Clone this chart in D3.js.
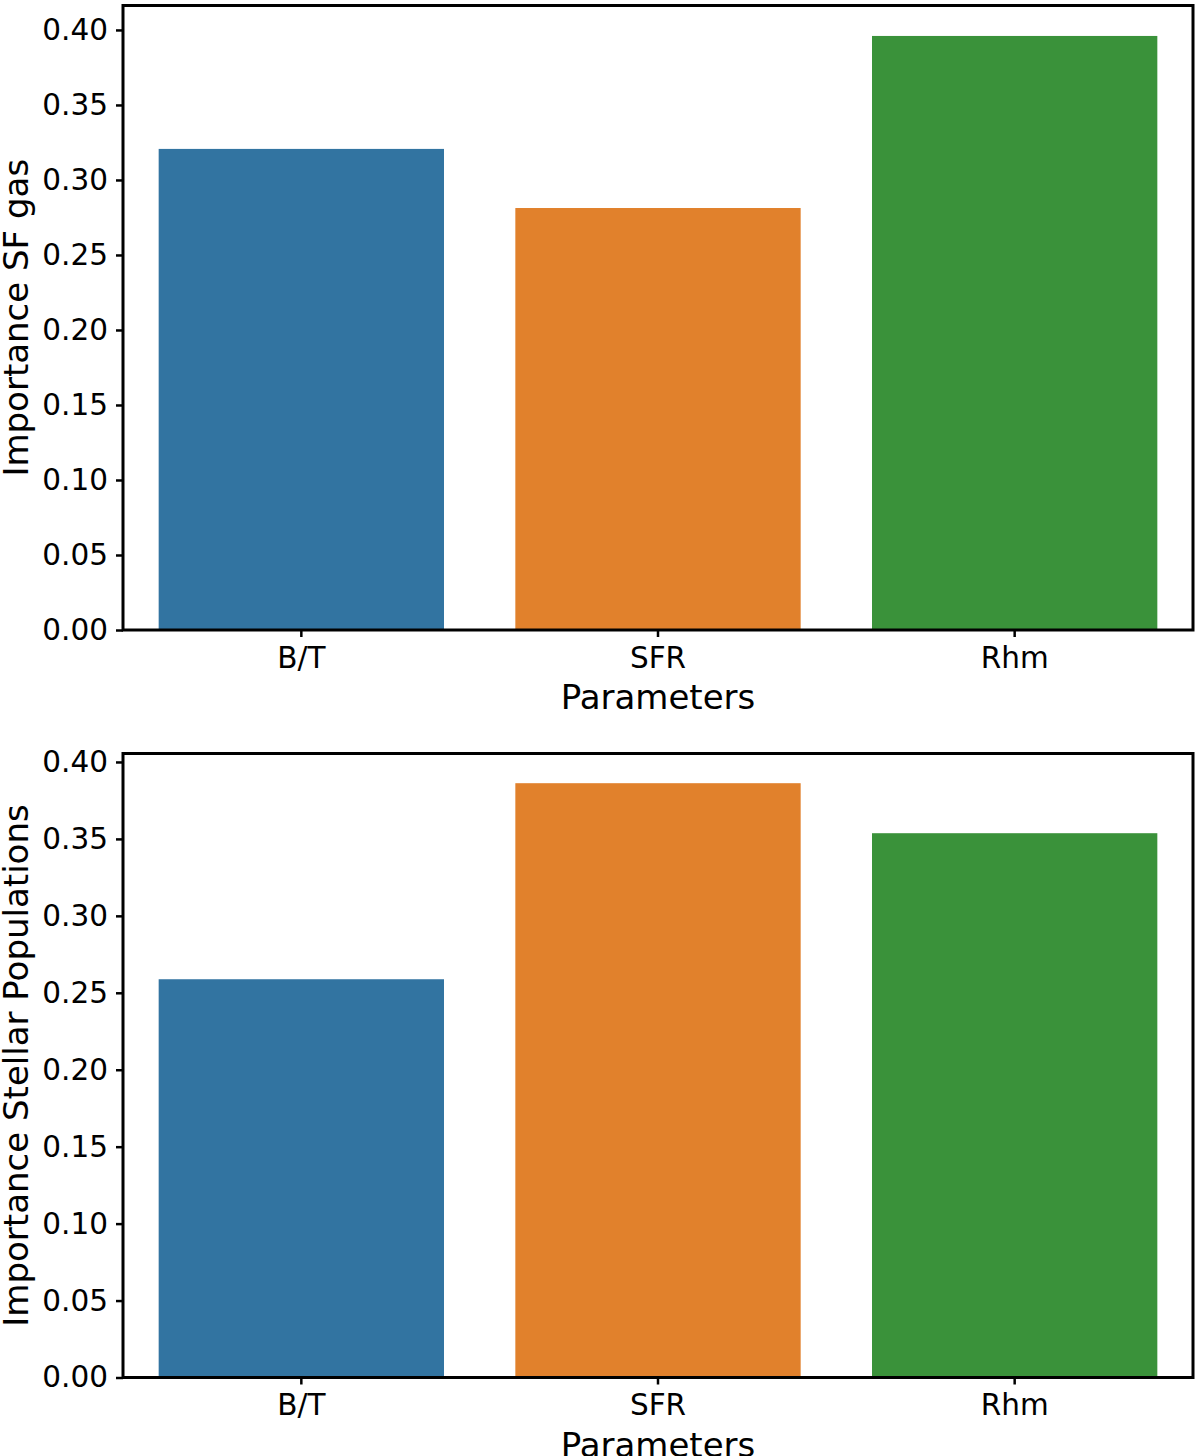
<!DOCTYPE html>
<html>
<head>
<meta charset="utf-8">
<script src="https://d3js.org/d3.v7.min.js"></script>
<style>
  body { margin: 0; background: #fff; }
  text { font-family: "DejaVu Sans", sans-serif; fill: #000; }
</style>
</head>
<body>
<script>
// data
var params = ["B/T", "SFR", "Rhm"];
var sfGas = [0.3207, 0.2813, 0.3960];
var stellarPops = [0.2588, 0.3862, 0.3537];
var yTicks = [0, 0.05, 0.10, 0.15, 0.20, 0.25, 0.30, 0.35, 0.40];
var colors = ["#3274a1", "#e1812c", "#3a923a"];

var width = 1200, height = 1456;

var svg = d3.select("body").append("svg")
    .attr("width", width)
    .attr("height", height);

var left = 123, right = 1193;

function drawPanel(values, top, bottom, yMax, label) {
    var x = d3.scaleBand()
        .domain(params)
        .range([left, right])
        .paddingInner(0.2)
        .paddingOuter(0.1);

    var y = d3.scaleLinear()
        .domain([0, yMax])
        .range([bottom, top]);

    var g = svg.append("g");

    g.selectAll("rect.bar")
        .data(values)
        .enter()
        .append("rect")
        .attr("class", "bar")
        .attr("x", function(d, i) { return x(params[i]); })
        .attr("width", x.bandwidth())
        .attr("y", function(d) { return y(d); })
        .attr("height", function(d) { return y(0) - y(d); })
        .style("fill", function(d, i) { return colors[i]; });

    // y axis
    var ya = g.append("g")
        .attr("transform", "translate(" + left + ",0)")
        .call(d3.axisLeft(y).tickValues(yTicks).tickFormat(d3.format(".2f"))
            .tickSize(7).tickPadding(8));
    ya.select(".domain").remove();
    ya.selectAll("line").attr("stroke", "#000").attr("stroke-width", 2.5);
    ya.selectAll("text").style("font-size", "29.5px").attr("font-family", null);

    // x axis
    var xa = g.append("g")
        .attr("transform", "translate(0," + bottom + ")")
        .call(d3.axisBottom(x).tickSize(7).tickPadding(10));
    xa.select(".domain").remove();
    xa.selectAll("line").attr("stroke", "#000").attr("stroke-width", 2.5);
    xa.selectAll("text").style("font-size", "29.5px").attr("font-family", null);

    // frame
    g.append("rect")
        .attr("x", left)
        .attr("y", top)
        .attr("width", right - left)
        .attr("height", bottom - top)
        .style("fill", "none")
        .style("stroke", "#000")
        .style("stroke-width", 3);

    g.append("text")
        .attr("x", (left + right) / 2)
        .attr("y", bottom + 79)
        .attr("text-anchor", "middle")
        .style("font-size", "34px")
        .text("Parameters");

    g.append("text")
        .attr("transform", "translate(28," + (top + bottom) / 2 + ") rotate(-90)")
        .attr("text-anchor", "middle")
        .style("font-size", "34px")
        .text(label);
}

drawPanel(sfGas, 5.5, 630, 0.4163, "Importance SF gas");
drawPanel(stellarPops, 753.5, 1377.5, 0.4055, "Importance Stellar Populations");
</script>
</body>
</html>
